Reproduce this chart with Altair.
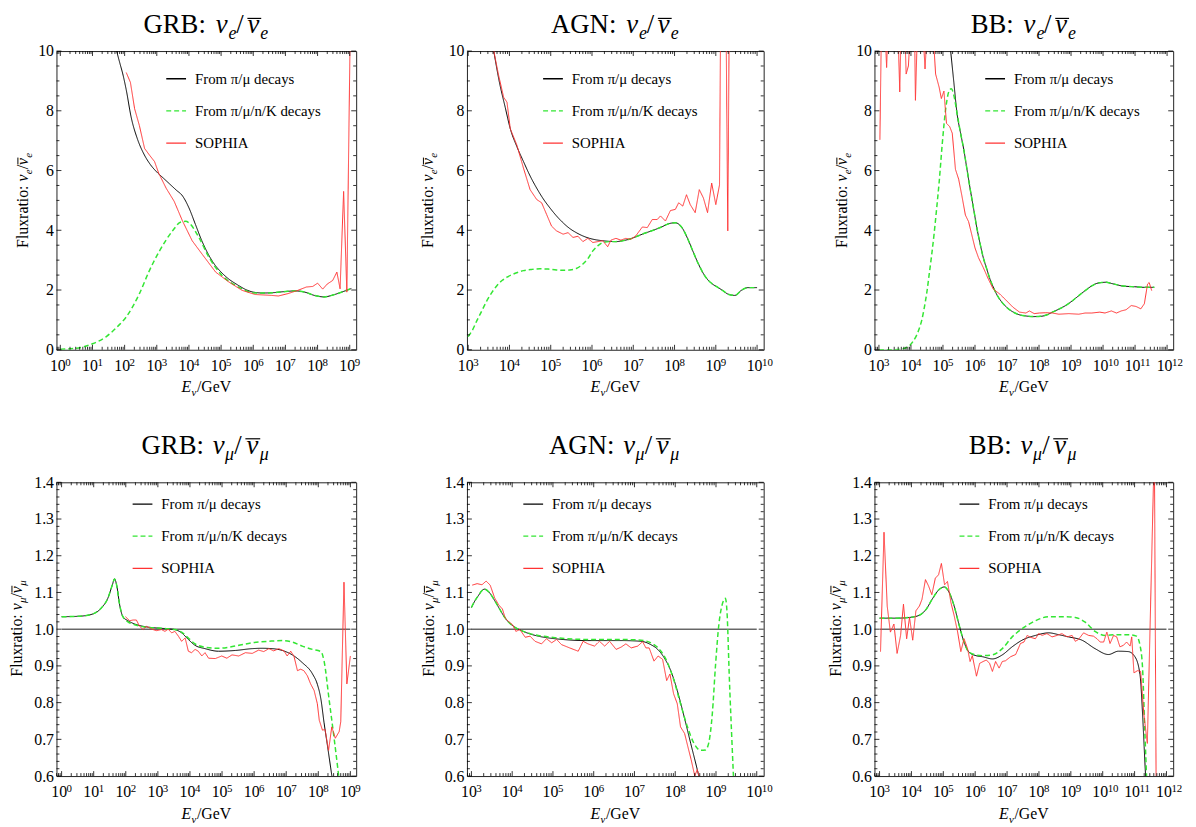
import altair as alt
import numpy as np
import pandas as pd

FONT = "Liberation Serif"
SERIES = ["From π/μ decays", "From π/μ/n/K decays", "SOPHIA"]
COLORS = ["#000000", "#33e633", "#ff3333"]
DASHES = [[1, 0], [5, 3], [1, 0]]
WIDTHS = [1.0, 1.5, 1.0]
INTERP = ["monotone", "monotone", "linear"]

# ---------------- data: log10(E/GeV) and flux ratio ----------------
# GRB  nu_e / nubar_e
grb_e_pimu_lg = [1.75, 1.85, 1.95, 2.05, 2.2, 2.4, 2.6, 2.8, 3.0, 3.2, 3.4, 3.6, 3.8, 4.0, 4.2, 4.4, 4.6, 4.8, 5.0, 5.2, 5.5, 5.8, 6.0, 6.3, 6.6, 7.0, 7.3, 7.6, 7.9, 8.2, 8.5, 8.8, 9.05]
grb_e_pimu = [10.0, 9.6, 9.2, 8.7, 7.8, 7.05, 6.55, 6.2, 5.95, 5.75, 5.55, 5.35, 5.15, 4.75, 4.2, 3.65, 3.2, 2.85, 2.6, 2.4, 2.18, 2.0, 1.93, 1.9, 1.91, 1.95, 1.97, 1.93, 1.82, 1.77, 1.84, 1.95, 2.05]
grb_e_nk_lg = [0.0, 0.5, 1.0, 1.44, 1.8, 2.05, 2.46, 2.77, 3.08, 3.49, 3.75, 3.9, 4.0, 4.31, 4.62, 5.03, 5.54, 6.06, 6.3, 6.6, 7.0, 7.3, 7.6, 7.9, 8.2, 8.5, 8.8, 9.05]
grb_e_nk = [0.02, 0.05, 0.2, 0.45, 0.8, 1.1, 1.88, 2.65, 3.3, 3.98, 4.28, 4.3, 4.25, 3.76, 3.1, 2.49, 2.1, 1.9, 1.9, 1.91, 1.95, 1.97, 1.93, 1.82, 1.77, 1.84, 1.95, 2.05]
grb_e_soph_lg = [2.05, 2.18, 2.31, 2.46, 2.62, 2.77, 2.93, 3.06, 3.29, 3.54, 3.8, 4.1, 4.41, 4.83, 5.24, 5.65, 6.06, 6.57, 6.78, 7.08, 7.39, 7.65, 7.85, 8.0, 8.16, 8.3, 8.47, 8.6, 8.7, 8.81, 8.91, 9.03]
grb_e_soph = [9.28, 8.95, 8.07, 7.5, 6.74, 6.52, 6.3, 5.91, 5.41, 4.97, 4.31, 3.65, 3.2, 2.6, 2.27, 1.99, 1.85, 1.82, 1.8, 1.88, 1.99, 2.1, 2.12, 2.23, 2.03, 2.2, 2.32, 2.6, 2.04, 5.3, 1.93, 12.0]

# AGN  nu_e / nubar_e
agn_e_pimu_lg = [3.62, 3.75, 3.9, 4.02, 4.18, 4.34, 4.5, 4.66, 4.82, 4.98, 5.14, 5.3, 5.46, 5.62, 5.78, 5.94, 6.1, 6.26, 6.42, 6.58, 6.74, 6.9, 7.06, 7.22, 7.38, 7.54, 7.7, 7.86, 8.02, 8.18, 8.34, 8.46, 8.58, 8.7, 8.82, 8.94, 9.06, 9.18, 9.3, 9.46, 9.62, 9.78, 10.0]
agn_e_pimu = [10.0, 9.0, 8.1, 7.4, 6.8, 6.3, 5.82, 5.41, 5.05, 4.75, 4.48, 4.25, 4.06, 3.92, 3.81, 3.73, 3.68, 3.65, 3.63, 3.62, 3.65, 3.7, 3.78, 3.87, 3.95, 4.03, 4.12, 4.22, 4.25, 4.09, 3.65, 3.25, 2.87, 2.55, 2.32, 2.18, 2.08, 1.97, 1.86, 1.82, 1.99, 2.08, 2.08]
agn_e_nk_lg = [3.0, 3.1, 3.22, 3.34, 3.46, 3.58, 3.7, 3.82, 3.94, 4.14, 4.34, 4.54, 4.74, 4.94, 5.14, 5.3, 5.46, 5.62, 5.78, 5.9, 6.02, 6.14, 6.26, 6.42, 6.58, 6.74, 6.9, 7.06, 7.22, 7.38, 7.54, 7.7, 7.86, 8.02, 8.18, 8.34, 8.46, 8.58, 8.7, 8.82, 8.94, 9.06, 9.18, 9.3, 9.46, 9.62, 9.78, 10.0]
agn_e_nk = [0.44, 0.65, 1.0, 1.33, 1.66, 1.93, 2.15, 2.32, 2.43, 2.56, 2.65, 2.69, 2.71, 2.7, 2.67, 2.66, 2.67, 2.72, 2.87, 3.05, 3.31, 3.48, 3.59, 3.62, 3.62, 3.65, 3.7, 3.78, 3.87, 3.95, 4.03, 4.12, 4.22, 4.25, 4.09, 3.65, 3.25, 2.87, 2.55, 2.32, 2.18, 2.08, 1.97, 1.86, 1.82, 1.99, 2.08, 2.08]
agn_e_soph_lg = [3.62, 3.74, 3.86, 3.94, 4.02, 4.18, 4.34, 4.5, 4.66, 4.78, 4.9, 5.02, 5.14, 5.3, 5.42, 5.54, 5.66, 5.78, 5.9, 6.02, 6.14, 6.26, 6.38, 6.46, 6.58, 6.7, 6.82, 6.94, 7.06, 7.22, 7.34, 7.46, 7.58, 7.66, 7.78, 7.9, 8.02, 8.1, 8.2, 8.29, 8.38, 8.5, 8.6, 8.7, 8.8, 8.9, 9.0, 9.09, 9.14, 9.22, 9.29, 9.35]
agn_e_soph = [10.0, 9.17, 8.45, 8.29, 7.4, 6.85, 6.08, 5.36, 5.03, 4.92, 4.53, 4.14, 3.98, 3.87, 3.92, 3.76, 3.8, 3.62, 3.73, 3.59, 3.62, 3.65, 3.45, 3.67, 3.73, 3.67, 3.73, 3.7, 3.81, 4.11, 4.09, 4.36, 4.36, 4.48, 4.31, 4.66, 4.7, 4.92, 4.81, 5.19, 4.86, 4.59, 5.36, 5.08, 4.59, 5.58, 4.86, 5.52, 16.0, 16.0, 3.98, 16.0]

# BB  nu_e / nubar_e
bb_e_pimu_lg = [5.24, 5.34, 5.44, 5.55, 5.65, 5.75, 5.85, 5.96, 6.06, 6.16, 6.26, 6.37, 6.47, 6.57, 6.67, 6.82, 6.98, 7.18, 7.39, 7.6, 7.8, 8.06, 8.25, 8.42, 8.62, 8.83, 9.03, 9.24, 9.44, 9.65, 9.8, 9.95, 10.1, 10.26, 10.42, 10.57, 10.78, 10.98, 11.29, 11.6]
bb_e_pimu = [10.0, 8.95, 7.91, 7.25, 6.7, 6.04, 5.38, 4.7, 4.07, 3.55, 3.08, 2.7, 2.36, 2.1, 1.87, 1.62, 1.43, 1.27, 1.17, 1.13, 1.11, 1.12, 1.17, 1.26, 1.36, 1.48, 1.63, 1.81, 1.98, 2.14, 2.22, 2.25, 2.26, 2.22, 2.18, 2.14, 2.12, 2.11, 2.09, 2.09]
bb_e_nk_lg = [3.0, 3.3, 3.6, 3.8, 3.95, 4.06, 4.16, 4.26, 4.34, 4.42, 4.5, 4.57, 4.65, 4.72, 4.8, 4.88, 4.98, 5.08, 5.18, 5.26, 5.34, 5.44, 5.55, 5.65, 5.75, 5.85, 5.96, 6.06, 6.16, 6.26, 6.37, 6.47, 6.57, 6.67, 6.82, 6.98, 7.18, 7.39, 7.6, 7.8, 8.06, 8.25, 8.42, 8.62, 8.83, 9.03, 9.24, 9.44, 9.65, 9.8, 9.95, 10.1, 10.26, 10.42, 10.57, 10.78, 10.98, 11.29, 11.6]
bb_e_nk = [0.0, 0.0, 0.01, 0.05, 0.13, 0.27, 0.45, 0.71, 1.0, 1.43, 1.95, 2.53, 3.2, 3.85, 4.7, 5.6, 6.92, 8.02, 8.63, 8.74, 8.52, 7.91, 7.25, 6.7, 6.04, 5.38, 4.7, 4.07, 3.55, 3.08, 2.7, 2.36, 2.1, 1.87, 1.62, 1.43, 1.27, 1.17, 1.13, 1.11, 1.12, 1.17, 1.26, 1.36, 1.48, 1.63, 1.81, 1.98, 2.14, 2.22, 2.25, 2.26, 2.22, 2.18, 2.14, 2.12, 2.11, 2.09, 2.09]
bb_e_soph_lg = [3.03, 3.08, 3.18, 3.24, 3.29, 3.4, 3.5, 3.59, 3.65, 3.7, 3.8, 3.85, 3.92, 4.0, 4.11, 4.14, 4.21, 4.36, 4.44, 4.52, 4.67, 4.77, 4.88, 4.95, 5.03, 5.11, 5.21, 5.29, 5.39, 5.49, 5.59, 5.7, 5.8, 5.9, 6.0, 6.11, 6.26, 6.42, 6.57, 6.77, 6.98, 7.18, 7.39, 7.59, 7.7, 7.85, 8.01, 8.21, 8.42, 8.62, 8.93, 9.24, 9.44, 9.65, 9.9, 10.06, 10.26, 10.42, 10.57, 10.72, 10.88, 11.03, 11.18, 11.29, 11.39, 11.44, 11.52]
bb_e_soph = [7.03, 11, 11, 9.45, 11, 11.5, 11, 11, 8.63, 11, 11, 9.23, 9.5, 11, 11, 8.35, 11, 11, 9.4, 11, 11, 9.23, 8.79, 8.41, 8.66, 7.58, 7.47, 7.25, 6.04, 5.71, 5.16, 4.51, 4.29, 3.85, 3.41, 3.08, 2.75, 2.36, 2.03, 1.87, 1.65, 1.43, 1.26, 1.23, 1.3, 1.21, 1.23, 1.24, 1.23, 1.19, 1.21, 1.19, 1.23, 1.23, 1.26, 1.23, 1.3, 1.23, 1.3, 1.34, 1.48, 1.45, 1.37, 1.54, 2.2, 2.25, 1.98]

# GRB  nu_mu / nubar_mu
grb_mu_pimu_lg = [0.0, 0.5, 0.92, 1.23, 1.44, 1.58, 1.65, 1.72, 1.81, 1.91, 2.07, 2.28, 2.59, 3.01, 3.32, 3.53, 3.74, 3.95, 4.16, 4.47, 4.89, 5.41, 5.94, 6.25, 6.56, 6.88, 7.19, 7.5, 7.82, 7.97, 8.08, 8.18, 8.29, 8.44]
grb_mu_pimu = [1.034, 1.035, 1.04, 1.057, 1.084, 1.12, 1.137, 1.118, 1.066, 1.034, 1.023, 1.014, 1.007, 1.003, 1.001, 0.999, 0.99, 0.972, 0.956, 0.947, 0.94, 0.942, 0.947, 0.948, 0.947, 0.942, 0.93, 0.909, 0.878, 0.85, 0.81, 0.745, 0.68, 0.59]
grb_mu_nk_lg = [0.0, 0.5, 0.92, 1.23, 1.44, 1.58, 1.65, 1.72, 1.81, 1.91, 2.07, 2.28, 2.59, 3.01, 3.32, 3.53, 3.74, 3.95, 4.16, 4.47, 4.89, 5.41, 5.94, 6.46, 6.88, 7.19, 7.5, 7.82, 8.08, 8.18, 8.34, 8.5, 8.65]
grb_mu_nk = [1.034, 1.035, 1.04, 1.057, 1.084, 1.12, 1.137, 1.118, 1.066, 1.034, 1.02, 1.012, 1.006, 1.003, 1.001, 0.999, 0.992, 0.976, 0.96, 0.951, 0.948, 0.954, 0.963, 0.967, 0.969, 0.965, 0.954, 0.945, 0.939, 0.913, 0.806, 0.698, 0.59]
grb_mu_soph_lg = [1.99, 2.12, 2.23, 2.33, 2.43, 2.54, 2.64, 2.75, 2.85, 2.96, 3.11, 3.22, 3.32, 3.43, 3.53, 3.64, 3.74, 3.85, 3.95, 4.05, 4.16, 4.26, 4.37, 4.47, 4.58, 4.79, 4.99, 5.15, 5.31, 5.52, 5.73, 5.94, 6.14, 6.3, 6.46, 6.61, 6.77, 6.93, 7.03, 7.14, 7.24, 7.35, 7.45, 7.55, 7.66, 7.76, 7.87, 7.97, 8.03, 8.13, 8.21, 8.32, 8.42, 8.53, 8.65, 8.7, 8.8, 8.89, 9.0]
grb_mu_soph = [1.034, 1.023, 1.025, 1.025, 1.008, 0.999, 1.008, 1.003, 0.999, 0.996, 0.999, 0.994, 1.0, 0.99, 0.994, 0.981, 0.967, 0.976, 0.94, 0.936, 0.945, 0.94, 0.927, 0.936, 0.921, 0.92, 0.927, 0.921, 0.93, 0.927, 0.936, 0.934, 0.943, 0.939, 0.947, 0.941, 0.947, 0.941, 0.927, 0.94, 0.927, 0.887, 0.891, 0.887, 0.873, 0.851, 0.833, 0.797, 0.752, 0.725, 0.727, 0.67, 0.734, 0.703, 0.721, 0.748, 1.128, 0.851, 0.927]

# AGN  nu_mu / nubar_mu
agn_mu_pimu_lg = [3.0, 3.1, 3.18, 3.25, 3.32, 3.46, 3.57, 3.67, 3.83, 4.03, 4.23, 4.44, 4.64, 5.05, 5.86, 6.67, 7.16, 7.4, 7.57, 7.73, 7.89, 8.05, 8.22, 8.38, 8.54, 8.6]
agn_mu_pimu = [1.059, 1.08, 1.093, 1.104, 1.109, 1.097, 1.078, 1.059, 1.03, 1.008, 0.996, 0.987, 0.981, 0.974, 0.969, 0.969, 0.967, 0.958, 0.945, 0.922, 0.887, 0.833, 0.761, 0.689, 0.618, 0.59]
agn_mu_nk_lg = [3.0, 3.1, 3.18, 3.25, 3.32, 3.46, 3.57, 3.67, 3.83, 4.03, 4.23, 4.44, 4.64, 5.05, 5.86, 6.67, 7.16, 7.48, 7.65, 7.81, 7.97, 8.13, 8.3, 8.46, 8.62, 8.74, 8.82, 8.91, 8.99, 9.07, 9.15, 9.23, 9.27, 9.33, 9.39, 9.44]
agn_mu_nk = [1.059, 1.08, 1.093, 1.104, 1.109, 1.097, 1.078, 1.059, 1.03, 1.008, 0.996, 0.988, 0.983, 0.977, 0.972, 0.972, 0.97, 0.958, 0.94, 0.909, 0.86, 0.797, 0.734, 0.689, 0.67, 0.671, 0.689, 0.77, 0.904, 1.012, 1.066, 1.084, 1.048, 0.86, 0.698, 0.57]
agn_mu_soph_lg = [3.02, 3.14, 3.26, 3.36, 3.46, 3.57, 3.67, 3.76, 3.83, 3.91, 4.01, 4.09, 4.19, 4.32, 4.44, 4.56, 4.72, 4.84, 4.97, 5.09, 5.21, 5.41, 5.62, 5.74, 5.86, 6.02, 6.14, 6.27, 6.39, 6.55, 6.67, 6.79, 6.92, 7.08, 7.2, 7.28, 7.36, 7.48, 7.58, 7.69, 7.79, 7.87, 7.96, 8.05, 8.13, 8.23, 8.31, 8.39, 8.48, 8.54, 8.61]
agn_mu_soph = [1.12, 1.124, 1.121, 1.131, 1.12, 1.085, 1.066, 1.055, 1.03, 1.021, 1.012, 0.994, 0.999, 0.978, 0.981, 0.967, 0.96, 0.974, 0.963, 0.972, 0.958, 0.949, 0.94, 0.967, 0.96, 0.954, 0.967, 0.954, 0.967, 0.945, 0.951, 0.96, 0.949, 0.954, 0.966, 0.949, 0.949, 0.913, 0.927, 0.918, 0.86, 0.878, 0.824, 0.797, 0.734, 0.716, 0.68, 0.645, 0.6, 0.618, 0.59]

# BB  nu_mu / nubar_mu
bb_mu_pimu_lg = [3.0, 3.52, 3.94, 4.25, 4.46, 4.66, 4.87, 5.03, 5.19, 5.34, 5.5, 5.65, 5.81, 6.02, 6.23, 6.54, 6.85, 7.16, 7.47, 7.89, 8.31, 8.62, 8.93, 9.35, 9.76, 10.18, 10.49, 10.8, 11.01, 11.17, 11.25, 11.3, 11.35]
bb_mu_pimu = [1.03, 1.03, 1.032, 1.038, 1.054, 1.083, 1.108, 1.115, 1.099, 1.063, 1.01, 0.965, 0.937, 0.928, 0.925, 0.919, 0.93, 0.952, 0.97, 0.983, 0.99, 0.985, 0.979, 0.97, 0.947, 0.931, 0.94, 0.939, 0.925, 0.876, 0.769, 0.68, 0.59]
bb_mu_nk_lg = [3.0, 3.52, 3.94, 4.25, 4.46, 4.66, 4.87, 5.03, 5.19, 5.34, 5.5, 5.65, 5.81, 6.02, 6.23, 6.54, 6.85, 7.16, 7.47, 7.89, 8.31, 8.72, 9.14, 9.45, 9.76, 10.08, 10.39, 10.8, 11.06, 11.17, 11.25, 11.32, 11.38]
bb_mu_nk = [1.03, 1.03, 1.032, 1.038, 1.054, 1.083, 1.108, 1.115, 1.099, 1.063, 1.01, 0.965, 0.937, 0.93, 0.928, 0.93, 0.947, 0.979, 1.001, 1.023, 1.034, 1.034, 1.032, 1.019, 0.994, 0.983, 0.985, 0.985, 0.981, 0.956, 0.894, 0.725, 0.59]
bb_mu_soph_lg = [3.03, 3.14, 3.24, 3.34, 3.45, 3.55, 3.66, 3.75, 3.85, 3.94, 4.04, 4.14, 4.25, 4.33, 4.44, 4.54, 4.64, 4.75, 4.85, 4.94, 5.04, 5.13, 5.24, 5.34, 5.45, 5.55, 5.65, 5.76, 5.84, 5.91, 6.04, 6.14, 6.25, 6.35, 6.45, 6.54, 6.64, 6.75, 6.85, 6.95, 7.11, 7.27, 7.42, 7.53, 7.63, 7.73, 7.89, 7.99, 8.1, 8.25, 8.41, 8.57, 8.72, 8.88, 9.04, 9.14, 9.24, 9.4, 9.56, 9.71, 9.82, 9.92, 10.03, 10.13, 10.23, 10.34, 10.44, 10.54, 10.65, 10.75, 10.86, 10.91, 10.98, 11.09, 11.19, 11.29, 11.4, 11.62, 11.68]
bb_mu_soph = [0.939, 1.264, 1.063, 0.992, 1.014, 0.934, 0.983, 1.068, 0.974, 1.032, 0.97, 1.05, 1.063, 1.081, 1.135, 1.117, 1.094, 1.139, 1.148, 1.179, 1.121, 1.13, 1.072, 1.037, 0.992, 0.939, 0.974, 0.947, 0.912, 0.928, 0.872, 0.907, 0.912, 0.916, 0.907, 0.885, 0.912, 0.894, 0.912, 0.914, 0.925, 0.931, 0.961, 0.965, 0.983, 0.978, 0.974, 0.988, 0.983, 0.988, 0.979, 0.983, 0.988, 0.979, 0.983, 0.967, 0.972, 0.99, 0.983, 0.981, 0.974, 0.965, 0.965, 0.992, 0.961, 0.983, 0.979, 0.952, 0.956, 0.965, 0.954, 0.979, 0.881, 0.887, 0.885, 0.769, 0.689, 1.5, 0.5]

# axis tick values
Y_MAJ_E = [0, 2, 4, 6, 8, 10]
Y_MIN_E = [0.5 * k for k in range(21) if k % 4 != 0]
Y_MAJ_MU = [round(0.6 + 0.1 * k, 1) for k in range(9)]
Y_MIN_MU = [round(0.6 + 0.02 * k, 2) for k in range(41) if k % 5 != 0]

ONE = pd.DataFrame({"k": [0]})
TFS = 27  # title font size
PREFIX_W = {"GRB:": 2.334 * TFS, "AGN:": 2.444 * TFS, "BB:": 1.612 * TFS}


def text(s, x, y, size, italic=False, align="left", angle=None, dx=0, dy=0):
    kw = dict(text=s, font=FONT, fontSize=size, align=align, baseline="alphabetic", color="black")
    if italic:
        kw["fontStyle"] = "italic"
    if angle is not None:
        kw["angle"] = angle
    if dx:
        kw["dx"] = dx
    if dy:
        kw["dy"] = dy
    return alt.Chart(ONE).mark_text(**kw).encode(x=alt.value(float(x)), y=alt.value(float(y)))


def seg(x1, y1, x2, y2, w=1.0):
    return alt.Chart(ONE).mark_rule(color="black", strokeWidth=w).encode(
        x=alt.value(float(x1)), y=alt.value(float(y1)), x2=alt.value(float(x2)), y2=alt.value(float(y2)))


def title_layers(prefix, sub, W, row):
    base = -18 if row == 0 else -29
    if sub == "e":
        ext, offs, bar = 64, [16, 27, 34.5, 48, 59], (42, 56)
    else:
        ext, offs, bar = 68, [15, 26, 34.5, 49, 61], (42, 57)
    A = W / 2 + (PREFIX_W[prefix] - ext) / 2
    return [
        text(prefix, A, base, TFS, align="right"),
        text("ν", A + offs[0], base, TFS, italic=True, align="center"),
        text(sub, A + offs[1], base + 6, 18, italic=True, align="center"),
        text("/", A + offs[2], base, TFS, align="center"),
        text("ν", A + offs[3], base, TFS, italic=True, align="center"),
        text(sub, A + offs[4], base + 6, 18, italic=True, align="center"),
        seg(A + bar[0], base - 15, A + bar[1], base - 15, 1.2),
    ]


def ytitle_layers(sub, H, bx):
    ay = H / 2 + 48
    d = [67.1, 74.4, 79.4, 83.8, 91.2] if sub == "e" else [67.1, 74.4, 80.0, 84.4, 91.8]
    return [
        text("Fluxratio: ", bx, ay, 16, angle=270),
        text("ν", bx, ay, 16, italic=True, angle=270, dx=d[0]),
        text(sub, bx, ay, 11, italic=True, angle=270, dx=d[1], dy=4),
        text("/", bx, ay, 16, angle=270, dx=d[2]),
        text("ν", bx, ay, 16, italic=True, angle=270, dx=d[3]),
        text(sub, bx, ay, 11, italic=True, angle=270, dx=d[4], dy=4),
        seg(bx - 10, ay - d[3] - 0.5, bx - 10, ay - d[3] - 7.5),
    ]


def xtitle_layers(W, H, row):
    by = H + 43
    x0 = W / 2 - 25
    return [
        text("E", x0, by, 16, italic=True),
        text("ν", x0 + 10, by + 4, 11, italic=True),
        text("/GeV", x0 + 15.5, by, 16),
    ]


def panel(cfg):
    lo, hi = cfg["xlog"]
    W, H, row = cfg["W"], cfg["H"], cfg["row"]
    xs = alt.Scale(type="log", domain=[10.0 ** lo, 10.0 ** hi], nice=False)
    if row == 0:
        ys = alt.Scale(domain=[0, 10], nice=False, zero=False)
        ymaj, ymin, yfmt = Y_MAJ_E, Y_MIN_E, "d"
    else:
        ys = alt.Scale(domain=[0.6, 1.4], nice=False, zero=False)
        ymaj, ymin, yfmt = Y_MAJ_MU, Y_MIN_MU, ".1f"
    exps = list(cfg["xmaj"])
    xmaj = [10.0 ** n for n in exps]
    xmin = [k * 10.0 ** n for n in range(int(np.floor(lo)), int(np.ceil(hi)) + 1) for k in range(2, 10)
            if lo < np.log10(k * 10.0 ** n) < hi]
    xaxis = alt.Axis(values=xmaj, labelExpr="'10'", title="", ticks=False, domain=False, grid=False,
                     labelFont=FONT, labelFontSize=16, labelColor="black", labelPadding=8,
                     labelAlign="right", labelOffset=5, labelFlush=False, labelOverlap=False)
    yaxis = alt.Axis(values=ymaj, format=yfmt, title="", ticks=False, domain=False, grid=False,
                     labelFont=FONT, labelFontSize=16, labelColor="black", labelPadding=3,
                     labelFlush=False, labelOverlap=False)
    X = alt.X("E:Q", scale=xs, axis=xaxis)
    Y = alt.Y("val:Q", scale=ys, axis=yaxis)
    leg = alt.Legend(orient="none", legendX=cfg["lx"], legendY=(17 if row == 0 else 11), title=None,
                     direction="vertical", symbolType="stroke", symbolSize=400, symbolStrokeWidth=1.3,
                     labelFont=FONT, labelFontSize=15, labelColor="black", labelOffset=8,
                     rowPadding=13.5, padding=0, labelLimit=300)
    C = alt.Color("series:N", scale=alt.Scale(domain=SERIES, range=COLORS), legend=leg)
    D = alt.StrokeDash("series:N", scale=alt.Scale(domain=SERIES, range=DASHES), legend=leg)

    layers = []
    if cfg.get("ref") is not None:
        a, b = cfg["ref"]
        rdf = pd.DataFrame({"E": [10.0 ** a, 10.0 ** b], "val": [1.0, 1.0]})
        layers.append(alt.Chart(rdf).mark_line(color="black", strokeWidth=0.9).encode(x=X, y=Y))
    for i, (lg, vals) in enumerate(cfg["series"]):
        df = pd.DataFrame({"E": 10.0 ** np.array(lg), "val": vals, "series": SERIES[i]})
        layers.append(alt.Chart(df).mark_line(clip=True, strokeWidth=WIDTHS[i], interpolate=INTERP[i]).encode(
            x=X, y=Y, color=C, strokeDash=D))

    # inward frame ticks
    dxmaj = pd.DataFrame({"E": xmaj})
    dxmin = pd.DataFrame({"E": xmin})
    dymaj = pd.DataFrame({"val": ymaj})
    dymin = pd.DataFrame({"val": ymin})
    for d, ln in ((dxmaj, 5), (dxmin, 3)):
        layers.append(alt.Chart(d).mark_rule(color="black", strokeWidth=0.8).encode(
            x=X, y=alt.value(H), y2=alt.value(H - ln)))
        layers.append(alt.Chart(d).mark_rule(color="black", strokeWidth=0.8).encode(
            x=X, y=alt.value(0), y2=alt.value(ln)))
    for d, ln in ((dymaj, 5), (dymin, 3)):
        layers.append(alt.Chart(d).mark_rule(color="black", strokeWidth=0.8).encode(
            y=Y, x=alt.value(0), x2=alt.value(ln)))
        layers.append(alt.Chart(d).mark_rule(color="black", strokeWidth=0.8).encode(
            y=Y, x=alt.value(W), x2=alt.value(W - ln)))

    # exponents of the x tick labels ("10" comes from the axis)
    dexp = pd.DataFrame({"E": xmaj, "t": [str(n) for n in exps]})
    layers.append(alt.Chart(dexp).mark_text(font=FONT, fontSize=11, align="left", baseline="alphabetic",
                                            color="black", dx=5).encode(
        x=X, y=alt.value(H + 16), text="t:N"))

    layers += title_layers(cfg["src"] + ":", cfg["sub"], W, row)
    layers += ytitle_layers(cfg["sub"], H, cfg["ytb"])
    layers += xtitle_layers(W, H, row)
    return alt.layer(*layers).properties(width=W, height=H)


cfgs = [
    dict(src="GRB", sub="e", row=0, xlog=(-0.12, 9.2), xmaj=range(0, 10), W=303, H=302, ytb=-29, lx=110,
         series=[(grb_e_pimu_lg, grb_e_pimu), (grb_e_nk_lg, grb_e_nk), (grb_e_soph_lg, grb_e_soph)]),
    dict(src="AGN", sub="e", row=0, xlog=(2.97, 10.16), xmaj=range(3, 11), W=300, H=302, ytb=-34, lx=76,
         series=[(agn_e_pimu_lg, agn_e_pimu), (agn_e_nk_lg, agn_e_nk), (agn_e_soph_lg, agn_e_soph)]),
    dict(src="BB", sub="e", row=0, xlog=(2.86, 12.19), xmaj=range(3, 13), W=302, H=302, ytb=-28, lx=111,
         series=[(bb_e_pimu_lg, bb_e_pimu), (bb_e_nk_lg, bb_e_nk), (bb_e_soph_lg, bb_e_soph)]),
    dict(src="GRB", sub="μ", row=1, xlog=(-0.16, 9.18), xmaj=range(0, 10), W=303, H=297, ytb=-35, lx=76,
         ref=(0, 9),
         series=[(grb_mu_pimu_lg, grb_mu_pimu), (grb_mu_nk_lg, grb_mu_nk), (grb_mu_soph_lg, grb_mu_soph)]),
    dict(src="AGN", sub="μ", row=1, xlog=(2.89, 10.17), xmaj=range(3, 11), W=300, H=297, ytb=-33, lx=56,
         ref=(3, 10),
         series=[(agn_mu_pimu_lg, agn_mu_pimu), (agn_mu_nk_lg, agn_mu_nk), (agn_mu_soph_lg, agn_mu_soph)]),
    dict(src="BB", sub="μ", row=1, xlog=(2.84, 12.21), xmaj=range(3, 13), W=302, H=297, ytb=-34, lx=85,
         ref=(3, 12),
         series=[(bb_mu_pimu_lg, bb_mu_pimu), (bb_mu_nk_lg, bb_mu_nk), (bb_mu_soph_lg, bb_mu_soph)]),
]

chart = alt.concat(*[panel(c) for c in cfgs], columns=3, spacing={"row": 134, "column": 112},
                   bounds="flush", align="each").resolve_scale(
    x="independent", y="independent", color="independent", strokeDash="independent"
).properties(padding={"left": 0, "top": -2, "right": 4, "bottom": 0}).configure_view(
    stroke="#222222", strokeWidth=1)

chart.save("out.html", embed_options={"renderer": "svg", "actions": False})
